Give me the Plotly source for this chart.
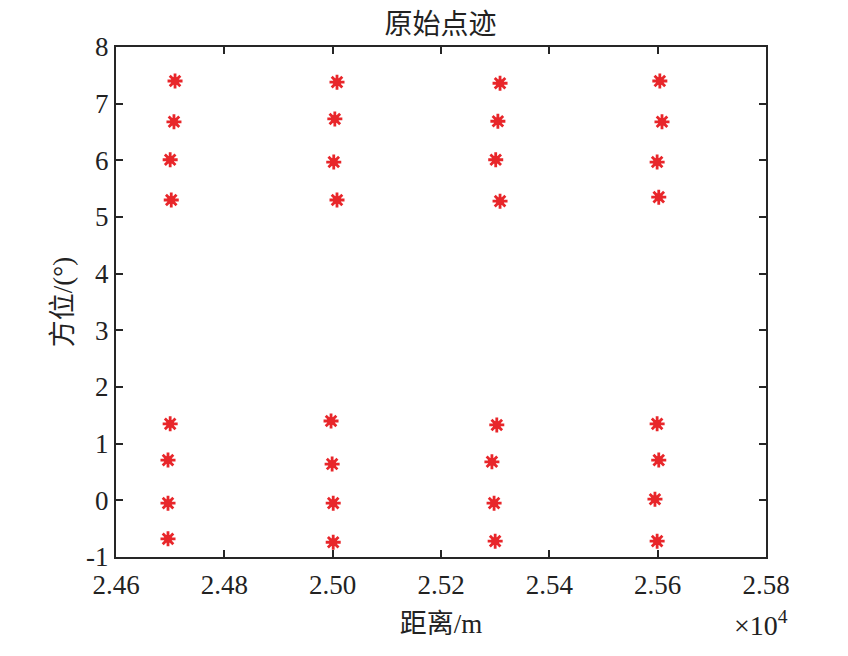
import plotly.graph_objects as go

# distance (m) and azimuth (deg) of the raw plots
range_m = [24709, 24707, 24700, 24702, 24700, 24696, 24696, 24696,
           25008, 25004, 25002, 25008, 24997, 24999, 25001, 25001,
           25309, 25305, 25301, 25309, 25303, 25294, 25298, 25300,
           25604, 25608, 25599, 25602, 25599, 25602, 25595, 25599]
azimuth_deg = [7.40, 6.68, 6.01, 5.30, 1.35, 0.71, -0.05, -0.68,
               7.38, 6.73, 5.97, 5.30, 1.40, 0.64, -0.05, -0.74,
               7.36, 6.69, 6.01, 5.28, 1.33, 0.68, -0.05, -0.72,
               7.40, 6.68, 5.97, 5.35, 1.35, 0.71, 0.02, -0.72]

x_tickvals = [24600, 24800, 25000, 25200, 25400, 25600, 25800]
x_ticktext = ["2.46", "2.48", "2.50", "2.52", "2.54", "2.56", "2.58"]
y_tickvals = [-1, 0, 1, 2, 3, 4, 5, 6, 7, 8]
y_ticktext = ["-1", "0", "1", "2", "3", "4", "5", "6", "7", "8"]

FONT = "Liberation Serif, Times New Roman, Noto Sans CJK SC, serif"
AX = "#262626"
RED = "#e8262a"

fig = go.Figure()
fig.add_trace(go.Scatter(
    x=range_m, y=azimuth_deg, mode="markers",
    marker=dict(symbol="circle", size=8, color=RED, line=dict(width=0)),
    showlegend=False, hoverinfo="skip"))
fig.add_trace(go.Scatter(
    x=range_m, y=azimuth_deg, mode="markers",
    marker=dict(symbol="asterisk-open", size=12.5, color=RED,
                line=dict(color=RED, width=2.8)),
    showlegend=False))

axis_common = dict(showgrid=False, zeroline=False, showline=True, linecolor=AX,
                   linewidth=2, mirror="ticks", ticks="inside", ticklen=7,
                   tickwidth=2, tickcolor=AX,
                   tickfont=dict(family=FONT, size=27, color="#222"))

fig.update_layout(
    width=840, height=648,
    paper_bgcolor="white", plot_bgcolor="white",
    margin=dict(l=108, r=82, t=39, b=99),
    title=dict(text="原始点迹", x=0.515, xanchor="center", y=0.99, yanchor="top",
               font=dict(family=FONT, size=28, color="#222")),
    xaxis=dict(range=[24600, 25800], tickvals=x_tickvals, ticktext=x_ticktext,
               ticklabelstandoff=3,
               title=dict(text="距离/m", font=dict(family=FONT, size=27, color="#222"),
                          standoff=15),
               **axis_common),
    yaxis=dict(range=[-1, 8], tickvals=y_tickvals, ticktext=y_ticktext,
               title=dict(text="方位/(°)", font=dict(family=FONT, size=27, color="#222"),
                          standoff=6),
               **axis_common),
    annotations=[dict(text="×10<sup>4</sup>", xref="paper", yref="paper",
                      x=0.993, y=-0.092, xanchor="center", yanchor="top",
                      showarrow=False, font=dict(family=FONT, size=28, color="#222"))],
)

fig.write_html("out.html")
